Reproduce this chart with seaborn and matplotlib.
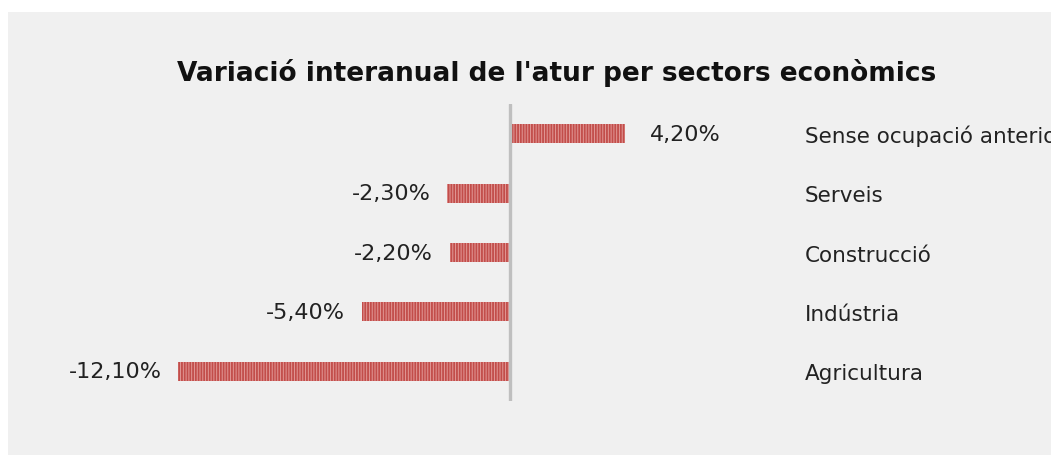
import matplotlib
matplotlib.use("Agg")
import matplotlib.pyplot as plt
import seaborn as sns
import pandas as pd
from matplotlib.patches import Rectangle

categories = ["Sense ocupació anterior", "Serveis", "Construcció", "Indústria", "Agricultura"]
values = [4.2, -2.3, -2.2, -5.4, -12.1]
title = "Variació interanual de l'atur per sectors econòmics"

sns.set_style("white")
plt.rcParams["font.family"] = ["DejaVu Sans"]
plt.rcParams["hatch.linewidth"] = 1.3

W, H = 1051, 456
fig = plt.figure(figsize=(W / 100, H / 100), dpi=100)
fig.patch.set_facecolor("white")
fig.patches.append(Rectangle((8 / W, 0), 1 - 8 / W, 1 - 13 / H, transform=fig.transFigure,
                             facecolor="#f0f0f0", edgecolor="none", zorder=-5))

left_px, right_px, top_px, bot_px = 99, 784, 105, 402
ax = fig.add_axes([left_px / W, 1 - bot_px / H, (right_px - left_px) / W, (bot_px - top_px) / H])
ax.set_facecolor("none")
ax.set_zorder(2)

df = pd.DataFrame({"cat": categories, "val": values})
sns.barplot(data=df, x="val", y="cat", orient="h", order=categories, color="#e29a98",
            width=0.32, ax=ax, linewidth=0, edgecolor="#c0504d", saturation=1)
for p in ax.patches:
    p.set_hatch("||||||")
    p.set_edgecolor("#c24d4a")
    p.set_linewidth(0)

ax.set_xlim(-15, 10)
ax.set_ylim(4.5, -0.5)
ax.axvline(0, color="#bfbfbf", lw=2.4, zorder=3)

for i, v in enumerate(values):
    lab = f"{v:.2f}".replace(".", ",") + "%"
    if v >= 0:
        ax.annotate(lab, (v, i), xytext=(18, 0), textcoords="offset points",
                    ha="left", va="center", fontsize=16, color="#222222")
    else:
        ax.annotate(lab, (v, i), xytext=(-12, 0), textcoords="offset points",
                    ha="right", va="center", fontsize=16, color="#222222")

ax.yaxis.tick_right()
ax.tick_params(axis="y", length=0, pad=15, labelsize=15.5, labelcolor="#222222")
ax.set_xticks([])
ax.set_xlabel("")
ax.set_ylabel("")
for s in ax.spines.values():
    s.set_visible(False)

fig.text(557 / W, 1 - 73 / H, title, ha="center", va="center", fontsize=19,
         fontweight="bold", color="#111111")

fig.savefig("out.png", dpi=100)
